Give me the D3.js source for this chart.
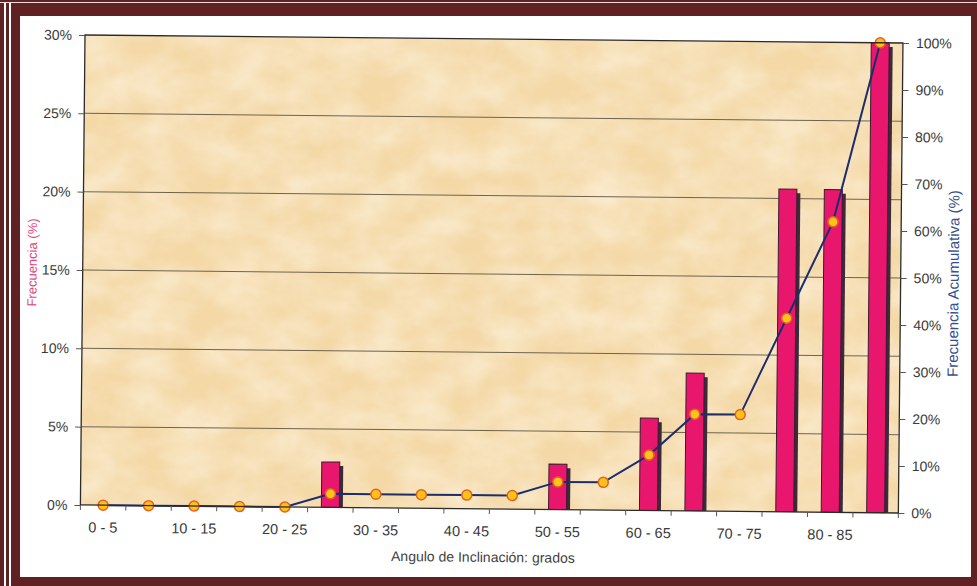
<!DOCTYPE html>
<html>
<head>
<meta charset="utf-8">
<script src="https://cdn.jsdelivr.net/npm/d3@7/dist/d3.min.js"></script>
<style>
  html, body { margin: 0; padding: 0; background: #ffffff; }
  svg { display: block; }
  text { font-family: "Liberation Sans", Arial, sans-serif; }
</style>
</head>
<body>
<svg id="chart" width="977" height="586"></svg>
<script>
// Inclination-angle classes (degrees)
const categories = ["0 - 5", "5 - 10", "10 - 15", "15 - 20", "20 - 25", "25 - 30",
  "30 - 35", "35 - 40", "40 - 45", "45 - 50", "50 - 55", "55 - 60",
  "60 - 65", "65 - 70", "70 - 75", "75 - 80", "80 - 85", "85 - 90"];
// Frequency per class (%)
const frequency = [0, 0, 0, 0, 0, 2.9, 0, 0, 0, 0, 2.9, 0, 5.9, 8.8, 0, 20.6, 20.6, 38.2];
// Cumulative frequency (%)
const cumulative = [0, 0, 0, 0, 0, 2.9, 2.9, 2.9, 2.9, 2.9, 5.9, 5.9, 11.8, 20.6, 20.6, 41.2, 61.8, 100];
// Axis ticks
const leftTicks = [0, 5, 10, 15, 20, 25, 30];
const rightTicks = [0, 10, 20, 30, 40, 50, 60, 70, 80, 90, 100];
// Only every other class is labelled on the x axis
const xLabels = ["0 - 5", "10 - 15", "20 - 25", "30 - 35", "40 - 45", "50 - 55", "60 - 65", "70 - 75", "80 - 85"];

const svg = d3.select("#chart");

// ---- frame ----
const maroon = "#5f2121";
svg.append("rect").attr("x", 0).attr("y", 0).attr("width", 977).attr("height", 586).attr("fill", maroon);
svg.append("rect").attr("x", 0).attr("y", 2).attr("width", 977).attr("height", 1).attr("fill", "#e9dede");
svg.append("rect").attr("x", 4).attr("y", 3).attr("width", 2).attr("height", 583).attr("fill", "#ffffff");
svg.append("rect").attr("x", 9).attr("y", 3).attr("width", 2).attr("height", 583).attr("fill", "#ffffff");
svg.append("rect").attr("x", 20).attr("y", 16).attr("width", 951).attr("height", 561).attr("fill", "#ffffff");

// ---- defs: parchment texture ----
const defs = svg.append("defs");
const f = defs.append("filter").attr("id", "parch")
  .attr("x", 0).attr("y", 0).attr("width", "100%").attr("height", "100%");
f.append("feTurbulence").attr("type", "fractalNoise").attr("baseFrequency", "0.022 0.03")
  .attr("numOctaves", 4).attr("seed", 11).attr("result", "noise");
f.append("feColorMatrix").attr("in", "noise").attr("type", "matrix")
  .attr("values", "0 0 0 0 0.99  0 0 0 0 0.93  0 0 0 0 0.81  1.2 0 0 0 -0.3");
defs.append("clipPath").attr("id", "plotclip").append("rect")
  .attr("x", 0).attr("y", -3).attr("width", 818).attr("height", 473);

// ---- plot geometry ----
const ox = 85, oy = 35, W = 818, H = 470;
const g = svg.append("g").attr("transform", `translate(${ox},${oy}) rotate(0.56)`);

const x = d3.scaleBand().domain(categories).range([0, W]).padding(0);
const yL = d3.scaleLinear().domain([0, 30]).range([H, 0]).clamp(true);
const yR = d3.scaleLinear().domain([0, 100]).range([H, 0]);
const cx = c => x(c) + x.bandwidth() / 2;
const bw = 18;

// background
g.append("rect").attr("width", W).attr("height", H).attr("fill", "#f4d8a6");
g.append("rect").attr("width", W).attr("height", H).attr("filter", "url(#parch)").attr("opacity", 0.75);

// gridlines
g.append("g").selectAll("line").data(leftTicks.filter(t => t > 0 && t < 30)).join("line")
  .attr("x1", 0).attr("x2", W).attr("y1", d => yL(d)).attr("y2", d => yL(d))
  .attr("stroke", "#6f6450").attr("stroke-width", 1);

// bars with shadow
const barData = categories.map((c, i) => ({ c, v: frequency[i] })).filter(d => d.v > 0);
const bars = g.append("g").attr("clip-path", "url(#plotclip)");
bars.selectAll("rect.sh").data(barData).join("rect").attr("class", "sh")
  .attr("x", d => cx(d.c) - bw / 2 + 3.5).attr("y", d => yL(d.v) + 4)
  .attr("width", bw).attr("height", d => H - yL(d.v) - 4)
  .attr("fill", "#3b2a3a");
bars.selectAll("rect.bar").data(barData).join("rect").attr("class", "bar")
  .attr("x", d => cx(d.c) - bw / 2).attr("y", d => yL(d.v))
  .attr("width", bw).attr("height", d => H - yL(d.v))
  .attr("fill", "#e8166d").attr("stroke", "#3a1a30").attr("stroke-width", 1);

// cumulative line + markers
const line = d3.line().x((d, i) => cx(categories[i])).y(d => yR(d));
g.append("path").datum(cumulative).attr("d", line)
  .attr("fill", "none").attr("stroke", "#1d2d6c").attr("stroke-width", 2);
g.append("g").selectAll("circle").data(cumulative).join("circle")
  .attr("cx", (d, i) => cx(categories[i])).attr("cy", d => yR(d)).attr("r", 5)
  .attr("fill", "#ffc11c").attr("stroke", "#e3631c").attr("stroke-width", 1.5);

// plot border
g.append("rect").attr("width", W).attr("height", H)
  .attr("fill", "none").attr("stroke", "#2e2a28").attr("stroke-width", 1.3);

// axes
const tickColor = "#3a3a3a";
const axL = g.append("g").call(d3.axisLeft(yL).tickValues(leftTicks).tickFormat(d => d + "%").tickSize(6).tickPadding(7));
const axR = g.append("g").attr("transform", `translate(${W},0)`)
  .call(d3.axisRight(yR).tickValues(rightTicks).tickFormat(d => d + "%").tickSize(6).tickPadding(7));
const axB = g.append("g").attr("transform", `translate(0,${H})`)
  .call(d3.axisBottom(x).tickValues(xLabels).tickSize(0).tickPadding(17));
// band-boundary tick marks on x axis
g.append("g").selectAll("line").data(d3.range(categories.length + 1)).join("line")
  .attr("x1", i => i * x.step()).attr("x2", i => i * x.step())
  .attr("y1", H).attr("y2", H + 5).attr("stroke", "#555").attr("stroke-width", 1);

[axL, axR, axB].forEach(a => {
  a.select(".domain").remove();
  a.selectAll("line").attr("stroke", "#555");
  a.selectAll("text").attr("fill", tickColor).attr("font-size", 14)
    .style("font-family", '"Liberation Sans", Arial, sans-serif');
});
axB.selectAll("text").attr("font-size", 14.5);

// axis titles
g.append("text").attr("x", W / 2 - 6).attr("y", H + 53).attr("text-anchor", "middle")
  .attr("font-size", 14).attr("fill", "#3f3f3f").text("Angulo de Inclinación: grados");
g.append("text").attr("transform", `translate(${-46},${228}) rotate(-90)`)
  .attr("text-anchor", "middle").attr("font-size", 13).attr("fill", "#e0467e").text("Frecuencia (%)");
g.append("text").attr("transform", `translate(${W + 58},${240}) rotate(-90)`)
  .attr("text-anchor", "middle").attr("font-size", 15).attr("fill", "#35508e").text("Frecuencia Acumulativa (%)");
</script>
</body>
</html>
